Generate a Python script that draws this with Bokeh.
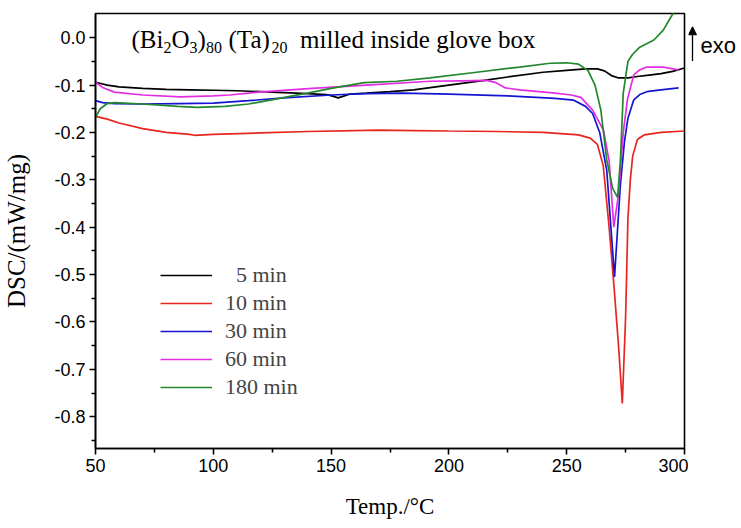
from bokeh.plotting import figure
from bokeh.models import (Range1d, FixedTicker, Legend, LegendItem, Label, Arrow,
                          NormalHead)
from bokeh.layouts import row
from bokeh.embed import file_html
from bokeh.resources import INLINE

# ---------------- data ----------------
t_5 = [50, 55, 60, 70, 80, 90, 100, 110, 120, 130, 140, 148, 151, 153, 155, 158, 165,
       175, 185, 200, 215, 225, 240, 250, 258, 263, 266, 269, 272, 276, 280, 285, 290,
       295, 300]
v_5 = [-0.094, -0.100, -0.104, -0.107, -0.109, -0.110, -0.111, -0.112, -0.114, -0.116,
       -0.118, -0.120, -0.124, -0.127, -0.124, -0.119, -0.117, -0.114, -0.110, -0.100,
       -0.090, -0.083, -0.073, -0.069, -0.066, -0.066, -0.070, -0.080, -0.085, -0.085,
       -0.082, -0.079, -0.076, -0.071, -0.064]

t_10 = [50, 55, 60, 70, 80, 90, 92, 100, 120, 140, 160, 170, 185, 200, 220, 240, 255,
        260, 263, 265.5, 268, 270, 272, 273.6, 275, 276, 277, 278, 280, 283, 290, 300]
v_10 = [-0.166, -0.172, -0.180, -0.192, -0.200, -0.204, -0.206, -0.204, -0.201, -0.198,
        -0.196, -0.195, -0.196, -0.197, -0.198, -0.200, -0.205, -0.212, -0.225, -0.270,
        -0.400, -0.520, -0.650, -0.772, -0.590, -0.380, -0.300, -0.250, -0.215, -0.205,
        -0.200, -0.197]

t_30 = [50, 53, 58, 70, 85, 100, 115, 130, 150, 165, 180, 200, 225, 245, 253, 258, 261,
        264, 267, 270.3, 272.8, 274.5, 276, 278.4, 281, 284, 290, 297.5]
v_30 = [-0.133, -0.137, -0.139, -0.140, -0.139, -0.138, -0.133, -0.127, -0.121, -0.118,
        -0.117, -0.119, -0.123, -0.128, -0.132, -0.145, -0.160, -0.200, -0.280, -0.505,
        -0.310, -0.220, -0.170, -0.132, -0.120, -0.114, -0.110, -0.106]

t_60 = [50, 53, 58, 70, 86, 100, 107, 119, 142, 165, 192, 205, 216, 220, 224, 230, 243,
        252, 256, 261, 265.6, 268, 270, 272, 274, 275.8, 278.5, 281, 284, 291, 297.5]
v_60 = [-0.094, -0.105, -0.115, -0.121, -0.125, -0.123, -0.121, -0.115, -0.107, -0.100,
        -0.092, -0.091, -0.090, -0.095, -0.106, -0.110, -0.116, -0.121, -0.126, -0.153,
        -0.195, -0.260, -0.400, -0.330, -0.200, -0.130, -0.078, -0.068, -0.062, -0.062,
        -0.068]

t_180 = [50, 52, 55, 58, 70, 85, 93, 105, 115, 128, 140, 150, 164, 178, 192, 210, 230,
         243, 250, 255, 259, 262, 264.5, 267, 269.5, 271.6, 272.8, 274, 276, 278, 281,
         287, 291, 295, 298]
v_180 = [-0.168, -0.150, -0.139, -0.137, -0.140, -0.145, -0.147, -0.145, -0.140, -0.128,
         -0.117, -0.107, -0.095, -0.092, -0.085, -0.074, -0.062, -0.054, -0.053, -0.056,
         -0.069, -0.100, -0.153, -0.258, -0.318, -0.337, -0.258, -0.117, -0.050, -0.035,
         -0.020, -0.005, 0.016, 0.050, 0.080]

series_labels = ["\u00a0\u00a05 min", "10 min", "30 min", "60 min", "180 min"]
series_colors = ["#000000", "#e8261f", "#1414d2", "#e22de2", "#22882c"]

x_ticks = [50, 100, 150, 200, 250, 300]
x_minor = [75, 125, 175, 225, 275]
y_ticks = [-0.8, -0.7, -0.6, -0.5, -0.4, -0.3, -0.2, -0.1, 0.0]
y_minor = [-0.85, -0.75, -0.65, -0.55, -0.45, -0.35, -0.25, -0.15, -0.05]

serif = "Liberation Serif"
sans = "Liberation Sans"

# ---------------- main figure ----------------
p = figure(frame_width=589, frame_height=435, output_backend="svg",
           toolbar_location=None, x_range=Range1d(50, 300),
           y_range=Range1d(-0.867, 0.051))
p.min_border_left = 95
p.min_border_top = 13
p.min_border_right = 4
p.min_border_bottom = 70
p.background_fill_color = "white"
p.border_fill_color = "white"
p.outline_line_color = "black"
p.outline_line_width = 1.6
p.grid.visible = False

for ax in (p.xaxis[0], p.yaxis[0]):
    ax.axis_line_width = 1.6
    ax.major_tick_line_width = 1.6
    ax.minor_tick_line_width = 1.6
    ax.major_tick_out = 6
    ax.major_tick_in = 0
    ax.minor_tick_out = 4
    ax.minor_tick_in = 0
    ax.major_label_text_font = sans
    ax.major_label_text_font_size = "18px"
    ax.major_label_text_color = "black"
    ax.axis_label_text_font = serif
    ax.axis_label_text_font_style = "normal"
    ax.axis_label_text_color = "black"

p.xaxis.axis_label_text_font_size = "23px"
p.yaxis.axis_label_text_font_size = "25px"
p.xaxis.ticker = FixedTicker(ticks=x_ticks, minor_ticks=x_minor)
p.yaxis.ticker = FixedTicker(ticks=y_ticks, minor_ticks=y_minor)
p.xaxis.major_label_overrides = {v: str(v) for v in x_ticks}
p.yaxis.major_label_overrides = {v: ("%.1f" % v) for v in y_ticks}
p.xaxis.axis_label = "Temp./\u00b0C"
p.yaxis.axis_label = "DSC/(mW/mg)"
p.xaxis.major_label_standoff = 4
p.yaxis.major_label_standoff = 4
p.xaxis.axis_label_standoff = 19
p.yaxis.axis_label_standoff = 21

all_t = [t_5, t_10, t_30, t_60, t_180]
all_v = [v_5, v_10, v_30, v_60, v_180]
items = []
for t, v, lab, col in zip(all_t, all_v, series_labels, series_colors):
    r = p.line(t, v, line_color=col, line_width=1.7)
    items.append(LegendItem(label=lab, renderers=[r]))

legend = Legend(items=items, location=(65, 47), padding=0, margin=0, spacing=0,
                glyph_width=52, glyph_height=28, label_height=28, label_standoff=13,
                label_text_font=serif, label_text_font_size="22px",
                border_line_alpha=0, background_fill_alpha=0)
p.add_layout(legend)

# ---------------- title-like annotation ----------------
title_x, title_y = 65.3, -0.004
big, small = "25px", "16px"
pieces = [("(Bi", 0, False), ("2", 32, True), ("O", 40, False), ("3", 58, True),
          (")", 66, False), ("80", 74.5, True), ("(Ta)", 97, False), ("20", 140, True),
          ("milled inside glove box", 168.5, False)]
for txt, dx, sub in pieces:
    p.add_layout(Label(x=title_x, y=title_y, x_offset=dx, y_offset=(-8 if sub else 0),
                       text=txt, text_font=serif,
                       text_font_size=(small if sub else big),
                       text_baseline="alphabetic", text_align="left",
                       text_color="black"))

# ---------------- side panel with the "exo" arrow ----------------
p2 = figure(frame_width=50, frame_height=435, output_backend="svg",
            toolbar_location=None, x_range=Range1d(0, 50), y_range=p.y_range)
p2.min_border_left = 0
p2.min_border_right = 0
p2.min_border_top = 13
p2.min_border_bottom = 70
p2.axis.visible = False
p2.grid.visible = False
p2.outline_line_color = None
p2.background_fill_color = "white"
p2.border_fill_color = "white"

p2.add_layout(Arrow(end=NormalHead(size=8, fill_color="black", line_color="black"),
                    x_start=4, y_start=-0.049, x_end=4, y_end=0.023,
                    line_color="black", line_width=1.3))
p2.add_layout(Label(x=12, y=-0.017, text="exo", text_font=sans,
                    text_font_size="22px", text_baseline="middle", text_align="left",
                    text_color="black"))

open("out.html", "w").write(file_html(row(p, p2), INLINE))
